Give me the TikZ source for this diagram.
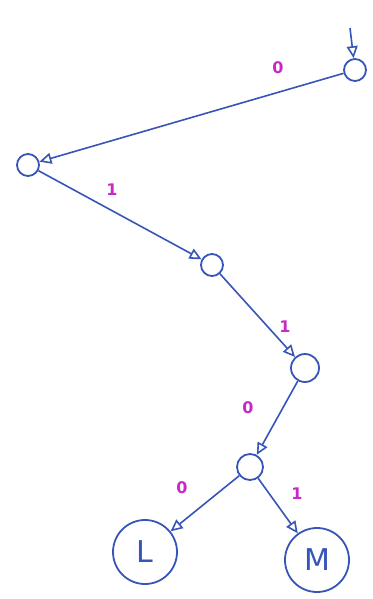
\documentclass[tikz,border=0pt]{standalone}
\usepackage{fontspec}
\setmainfont{DejaVu Sans}
\usetikzlibrary{arrows.meta}
\definecolor{ink}{RGB}{55,85,185}
\definecolor{mag}{RGB}{200,40,200}
\tikzset{
  st/.style={circle,draw=ink,line width=1.8pt,minimum size=22pt,inner sep=0pt},
  fin/.style={circle,draw=ink,line width=1.8pt,minimum size=64pt,inner sep=0pt,text=ink,font=\fontsize{30}{30}\selectfont},
  tr/.style={draw=ink,line width=1.6pt,-{Triangle[open,length=12pt,width=11pt,line width=1.6pt]}},
  lab/.style={text=mag,font=\bfseries\fontsize{16}{16}\selectfont}
}
\begin{document}
\begin{tikzpicture}[x=1pt,y=-1pt]
\useasboundingbox (0,0) rectangle (372,599);
\node[st] (n1) at (355,70) {};
\node[st] (n2) at (28,165) {};
\node[st] (n3) at (212,265) {};
\node[st,minimum width=24pt,minimum height=28pt] (n4) at (305,368) {};
\node[st,minimum width=20pt,minimum height=26pt] (n5) at (250,467) {};
\node[fin] (L) at (145,552) {L};
\node[fin] (M) at (317,560) {M};
\coordinate (s) at (350,28);
\draw[tr] (s) -- (n1);
\draw[tr] (n1) -- (n2);
\draw[tr] (n2) -- (n3);
\draw[tr] (n3) -- (n4);
\draw[tr] (n4) -- (n5);
\draw[tr] (n5) -- (L);
\draw[tr] (n5) -- (M);
\node[lab] (l1) at (278,68) {0};
\node[lab] (l2) at (112,190) {1};
\node[lab] (l3) at (285,327) {1};
\node[lab] (l4) at (248,408) {0};
\node[lab] (l5) at (182,488) {0};
\node[lab] (l6) at (297,494) {1};
\end{tikzpicture}
\end{document}
